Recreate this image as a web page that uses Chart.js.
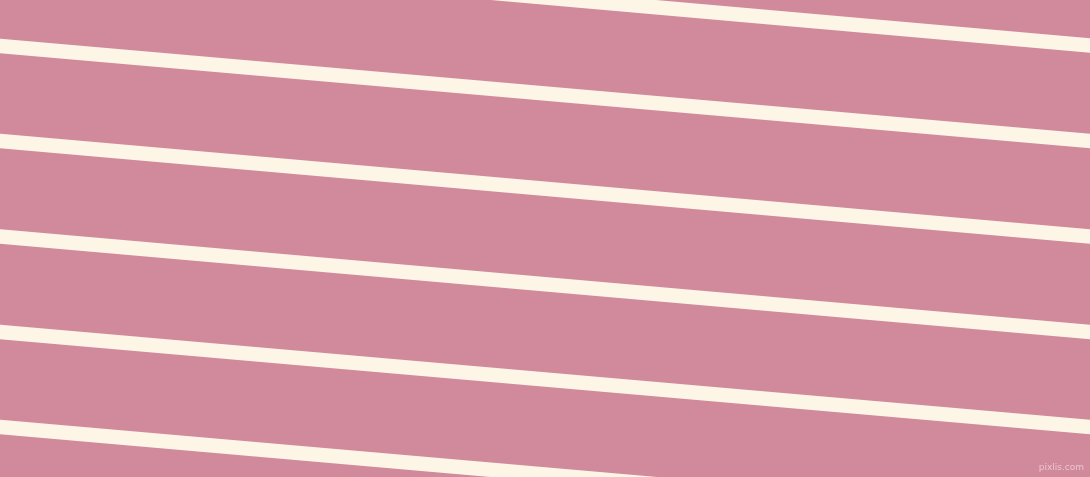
<!DOCTYPE html>
<html>
<head>
<meta charset="utf-8">
<script src="https://cdn.jsdelivr.net/npm/chart.js@4"></script>
<style>
  html, body { margin: 0; padding: 0; background: #d08a9b; overflow: hidden; }
  #wrap { position: relative; width: 1090px; height: 477px; }
  #stripes { display: block; }
  #mark {
    position: absolute; right: 6px; bottom: 5px;
    font-family: "DejaVu Sans", sans-serif; font-size: 9px;
    color: rgba(255, 235, 240, 0.6);
  }
</style>
</head>
<body>
<div id="wrap">
  <canvas id="stripes" width="1090" height="477"></canvas>
  <div id="mark">pixlis.com</div>
</div>
<script>
var xEnds = [0, 1090];
var leftY = [-50.5, 46, 141, 236.5, 332, 427];
var rightY = [45.5, 141, 236.5, 332, 427, 522];

var pink = "#d08a9b";
var cream = "#fdf6e7";

var datasets = [];
for (var i = 0; i < leftY.length; i++) {
    datasets.push({
        data: [{x: xEnds[0], y: leftY[i]}, {x: xEnds[1], y: rightY[i]}],
        borderColor: cream,
        borderWidth: 14.5,
        borderCapStyle: "square",
        pointRadius: 0,
        fill: false,
        clip: false
    });
}

var bg = {
    id: "bg",
    beforeDraw: function(chart) {
        var c = chart.ctx;
        c.save();
        c.fillStyle = pink;
        c.fillRect(0, 0, chart.width, chart.height);
        c.restore();
    }
};

var ctx = document.getElementById("stripes").getContext("2d");
var myChart = new Chart(ctx, {
    type: "line",
    data: { datasets: datasets },
    options: {
        responsive: false,
        devicePixelRatio: 1,
        animation: false,
        layout: { padding: 0 },
        plugins: { legend: { display: false }, tooltip: { enabled: false } },
        scales: {
            x: { type: "linear", min: 0, max: 1090, display: false },
            y: { type: "linear", min: 0, max: 477, reverse: true, display: false }
        }
    },
    plugins: [bg]
});
</script>
</body>
</html>
